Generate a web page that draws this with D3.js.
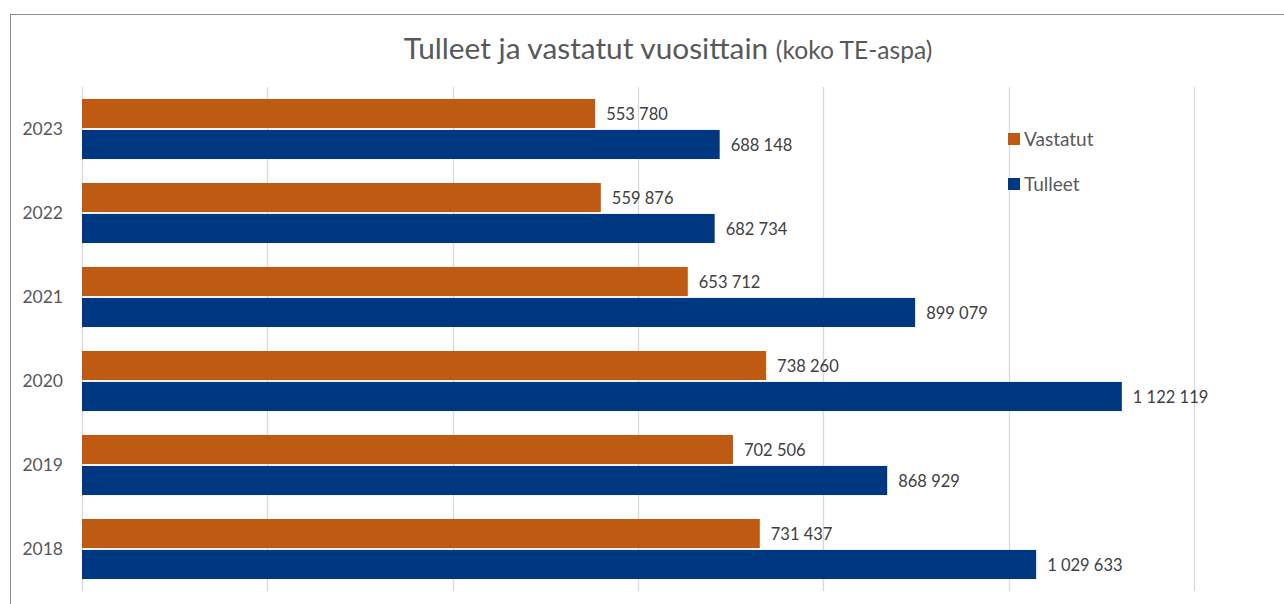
<!DOCTYPE html>
<html>
<head>
<meta charset="utf-8">
<script src="https://cdn.jsdelivr.net/npm/d3@7"></script>
<style>
  body { margin: 0; background: #fff; }
  svg { display: block; font-family: Lato, "Open Sans", sans-serif; }
</style>
</head>
<body>
<svg id="chart" width="1284" height="604"></svg>
<script>
// data
const years = ['2023', '2022', '2021', '2020', '2019', '2018'];
const vastatut = [553780, 559876, 653712, 738260, 702506, 731437];
const tulleet = [688148, 682734, 899079, 1122119, 868929, 1029633];
const xTicks = [0, 200000, 400000, 600000, 800000, 1000000, 1200000];
const seriesNames = ['Vastatut', 'Tulleet'];
const seriesColors = ['#bf5a12', '#003781'];

const svg = d3.select('#chart');
const textColor = '#595959';

// outer chart border
svg.append('rect')
    .attr('x', 10.5).attr('y', 14.5)
    .attr('width', 1300).attr('height', 620)
    .attr('fill', 'none')
    .attr('stroke', '#8c8c8c')
    .attr('stroke-width', 1);

const plot = { left: 82, right: 1194, top: 87, bottom: 591 };

const x = d3.scaleLinear()
    .domain([0, 1200000])
    .range([plot.left, plot.right]);

const y = d3.scaleBand()
    .domain(years)
    .range([plot.top, plot.bottom])
    .paddingInner(0.285)
    .paddingOuter(0.1425);

const ySub = d3.scaleBand()
    .domain(seriesNames)
    .range([0, y.bandwidth()])
    .paddingInner(0.06);

// gridlines
svg.append('g')
    .selectAll('line')
    .data(xTicks)
    .enter()
    .append('line')
    .attr('x1', d => Math.round(x(d)) + 0.5)
    .attr('x2', d => Math.round(x(d)) + 0.5)
    .attr('y1', plot.top)
    .attr('y2', plot.bottom)
    .attr('stroke', '#d9d9d9')
    .attr('stroke-width', 1.3);

// title
const title = svg.append('text')
    .attr('x', 668)
    .attr('y', 59)
    .attr('text-anchor', 'middle')
    .attr('fill', textColor);
title.append('tspan').attr('font-size', 29.8).text('Tulleet ja vastatut vuosittain ');
title.append('tspan').attr('font-size', 24.6).text('(koko TE-aspa)');

// bars
const rows = years.map((yr, i) => ({
    year: yr,
    values: [
        { name: 'Vastatut', value: vastatut[i], color: seriesColors[0] },
        { name: 'Tulleet', value: tulleet[i], color: seriesColors[1] }
    ]
}));

const fmt = v => d3.format(',')(v).replace(/,/g, ' ');

const group = svg.append('g')
    .selectAll('g')
    .data(rows)
    .enter()
    .append('g')
    .attr('transform', d => `translate(0,${y(d.year)})`);

group.selectAll('rect')
    .data(d => d.values)
    .enter()
    .append('rect')
    .attr('x', x(0))
    .attr('y', d => ySub(d.name))
    .attr('width', d => x(d.value) - x(0))
    .attr('height', ySub.bandwidth())
    .attr('fill', d => d.color);

group.selectAll('text.val')
    .data(d => d.values)
    .enter()
    .append('text')
    .attr('class', 'val')
    .attr('x', d => x(d.value) + 11)
    .attr('y', d => ySub(d.name) + ySub.bandwidth() / 2 + 1)
    .attr('dy', '0.35em')
    .attr('font-size', 16.5)
    .attr('fill', '#404040')
    .text(d => fmt(d.value));

// year labels
svg.append('g')
    .selectAll('text')
    .data(years)
    .enter()
    .append('text')
    .attr('x', 63)
    .attr('y', d => y(d) + y.bandwidth() / 2)
    .attr('dy', '0.35em')
    .attr('text-anchor', 'end')
    .attr('font-size', 17.5)
    .attr('fill', textColor)
    .text(d => d);

// legend
const legend = svg.append('g')
    .selectAll('g')
    .data(seriesNames)
    .enter()
    .append('g')
    .attr('transform', (d, i) => `translate(1008,${139 + i * 45})`);

legend.append('rect')
    .attr('x', 0).attr('y', -6)
    .attr('width', 12).attr('height', 12)
    .attr('fill', (d, i) => seriesColors[i]);

legend.append('text')
    .attr('x', 16)
    .attr('dy', '0.35em')
    .attr('font-size', 19)
    .attr('fill', textColor)
    .text(d => d);
</script>
</body>
</html>
